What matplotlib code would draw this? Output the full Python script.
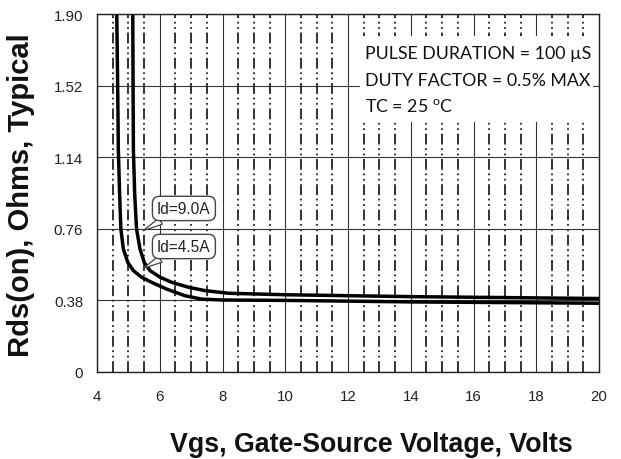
import matplotlib
matplotlib.use("Agg")
import matplotlib.pyplot as plt
from matplotlib.patches import Rectangle
from matplotlib.ticker import MultipleLocator

# ---- data ----
vgs_45 = [4.63, 4.66, 4.68, 4.72, 4.76, 4.84, 4.98, 5.16, 5.42, 5.74, 6.22, 6.80, 7.33, 8.0, 10.0, 14.0, 20.0]
rds_45 = [1.90, 1.50, 1.18, 0.95, 0.76, 0.653, 0.582, 0.538, 0.503, 0.476, 0.44, 0.405, 0.387, 0.382, 0.380, 0.372, 0.365]

vgs_90 = [5.14, 5.15, 5.16, 5.20, 5.26, 5.37, 5.51, 5.69, 6.01, 6.38, 6.91, 7.44, 8.18, 10.0, 14.0, 20.0]
rds_90 = [1.90, 1.50, 1.18, 0.95, 0.76, 0.653, 0.58, 0.538, 0.503, 0.476, 0.45, 0.432, 0.418, 0.410, 0.400, 0.390]

x_ticks = [4, 6, 8, 10, 12, 14, 16, 18, 20]
y_ticks = [0, 0.38, 0.76, 1.14, 1.52, 1.90]
y_tick_labels = ["0", "0.38", "0.76", "1.14", "1.52", "1.90"]

label_45 = "Id=4.5A"
label_90 = "Id=9.0A"
conditions = ["PULSE DURATION = 100 µS", "DUTY FACTOR = 0.5% MAX", "TC = 25 $^{\\mathregular{o}}$C"]
xlabel = "Vgs, Gate-Source Voltage, Volts"
ylabel = "Rds(on), Ohms, Typical"

# ---- figure ----
W, H = 621, 460
fig = plt.figure(figsize=(W / 100, H / 100), dpi=100)
L, R, T, B = 97, 599, 15, 373
ax = fig.add_axes([L / W, 1 - B / H, (R - L) / W, (B - T) / H])
ax.set_xlim(4, 20)
ax.set_ylim(0, 1.90)

ax.set_xticks(x_ticks)
ax.set_yticks(y_ticks)
ax.set_yticklabels(y_tick_labels)
ax.xaxis.set_minor_locator(MultipleLocator(0.5))
ax.tick_params(which="both", length=0)
ax.tick_params(axis="x", pad=12, labelsize=10.8, labelcolor="#222222")
ax.tick_params(axis="y", pad=10, labelsize=10.8, labelcolor="#222222")
for lab in ax.get_xticklabels() + ax.get_yticklabels():
    lab.set_fontfamily("Liberation Sans")

ax.set_axisbelow(True)
ax.grid(which="major", color="#333333", linewidth=0.8, linestyle="-")
ax.grid(which="minor", axis="x", color="#222222", linewidth=1.3,
        linestyle=(0, (6, 2, 1, 2, 1, 2)))
for s in ax.spines.values():
    s.set_color("#222222")
    s.set_linewidth(1.0)

# white background behind the conditions text
ax.add_patch(Rectangle((12.38, 1.327), 19.81 - 12.38, 1.783 - 1.327,
                       facecolor="white", edgecolor="none", zorder=1.5))
ty = [1.695, 1.55, 1.41]
for t, yv in zip(conditions, ty):
    ax.text(12.55, yv, t, fontsize=12.8, family="Lato", color="#111111",
            va="center", ha="left", zorder=3)

ax.plot(vgs_45, rds_45, color="black", linewidth=2.5, zorder=2.5,
        solid_joinstyle="round", solid_capstyle="butt")
ax.plot(vgs_90, rds_90, color="black", linewidth=2.5, zorder=2.5,
        solid_joinstyle="round", solid_capstyle="butt")

bbox = dict(boxstyle="round,pad=0.3,rounding_size=0.45", facecolor="white",
            edgecolor="#444444", linewidth=1.0)
arrow = dict(arrowstyle="wedge,tail_width=0.45", facecolor="white",
             edgecolor="#444444", linewidth=0.9, shrinkA=0, shrinkB=0)
ax.annotate(label_90, xy=(5.47, 0.75), xytext=(6.77, 0.868), fontsize=11.2,
            family="Liberation Sans", ha="center", va="center", bbox=bbox,
            arrowprops=arrow, zorder=4, color="#222222")
ax.annotate(label_45, xy=(5.47, 0.55), xytext=(6.77, 0.666), fontsize=11.2,
            family="Liberation Sans", ha="center", va="center", bbox=bbox,
            arrowprops=arrow, zorder=4, color="#222222")

fig.text(371 / W, 1 - 452 / H, xlabel, fontsize=19.3, fontweight="bold",
         family="Liberation Sans", ha="center", va="baseline", color="#111111")
fig.text(21 / W, 1 - 195 / H, ylabel, fontsize=21, fontweight="bold",
         family="Liberation Sans", ha="center", va="center", rotation=90,
         color="#111111")

fig.savefig("out.png", dpi=100)
